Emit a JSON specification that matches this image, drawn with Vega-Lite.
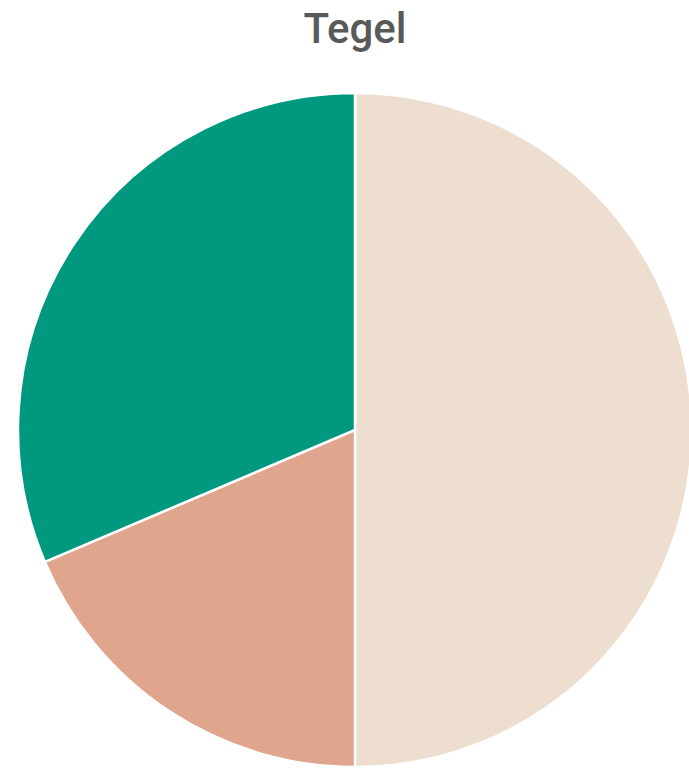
{
  "$schema": "https://vega.github.io/schema/vega-lite/v6.json",
  "autosize": "none",
  "width": 710,
  "height": 740,
  "padding": {"top": 60, "left": 0, "right": 0, "bottom": 0},
  "background": "white",
  "title": {
    "text": "Tegel",
    "font": "Roboto",
    "fontSize": 42,
    "fontWeight": 500,
    "color": "#595959",
    "anchor": "middle",
    "offset": 8
  },
  "data": {
    "values": [
      {"kategorie": "A", "anteil": 50.0, "rang": 1},
      {"kategorie": "B", "anteil": 18.6, "rang": 2},
      {"kategorie": "C", "anteil": 31.4, "rang": 3}
    ]
  },
  "mark": {"type": "arc", "radius": 337, "stroke": "white", "strokeWidth": 2.5},
  "encoding": {
    "theta": {"field": "anteil", "type": "quantitative", "stack": true},
    "order": {"field": "rang", "type": "quantitative"},
    "color": {
      "field": "kategorie",
      "type": "nominal",
      "scale": {"domain": ["A", "B", "C"], "range": ["#EEDED0", "#E0A58D", "#00987F"]},
      "legend": null
    }
  },
  "config": {"view": {"stroke": null}}
}
